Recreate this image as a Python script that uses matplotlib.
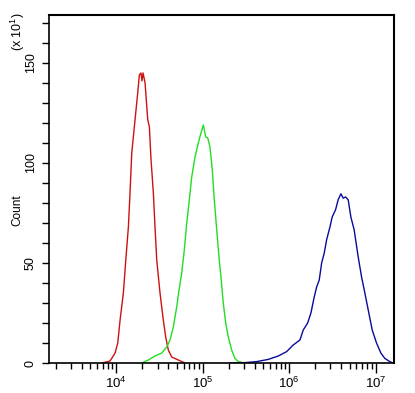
import matplotlib
matplotlib.use('Agg')
import matplotlib.pyplot as plt
import numpy as np
from matplotlib.ticker import FixedLocator, LogLocator, NullFormatter

plt.rcParams['font.family'] = ['Liberation Sans', 'DejaVu Sans']
plt.rcParams['mathtext.fontset'] = 'custom'
plt.rcParams['mathtext.rm'] = 'Liberation Sans'
plt.rcParams['mathtext.it'] = 'Liberation Sans'

red_log = [3.831, 3.927, 3.985, 4.016, 4.043, 4.081, 4.109, 4.139, 4.158, 4.178,
           4.216, 4.247, 4.266, 4.285, 4.296, 4.309, 4.332, 4.363, 4.382, 4.401,
           4.428, 4.447, 4.467, 4.505, 4.543, 4.571, 4.601, 4.640, 4.717, 4.794]
red_cnt = [0, 1, 5, 10, 21.5, 35, 51.5, 68, 85, 105,
           121.6, 135, 144, 145, 141, 145, 140, 121.6, 118, 101.6,
           85, 68, 51.5, 35, 21.5, 13, 6.5, 3, 1.5, 0]

green_log = [4.294, 4.370, 4.447, 4.525, 4.583, 4.621, 4.659, 4.698, 4.725, 4.756,
             4.786, 4.814, 4.840, 4.872, 4.910, 4.948, 4.979, 5.006, 5.034, 5.057,
             5.083, 5.110, 5.133, 5.161, 5.187, 5.210, 5.237, 5.265, 5.295, 5.334,
             5.372, 5.410, 5.488]
green_cnt = [0, 1.5, 3.5, 5, 8, 11.5, 18, 28, 36.5, 45,
             56.5, 70, 80, 93, 103, 110, 115, 119, 113, 112.5,
             108, 96.6, 81.6, 66.6, 53, 43, 30, 20, 13, 6.5,
             2.3, 0.7, 0]

blue_log = [5.314, 5.488, 5.623, 5.757, 5.873, 5.970, 6.046, 6.124, 6.162, 6.213,
            6.251, 6.289, 6.317, 6.347, 6.375, 6.405, 6.432, 6.471, 6.497, 6.536,
            6.566, 6.598, 6.624, 6.652, 6.682, 6.713, 6.751, 6.798, 6.837, 6.875,
            6.921, 6.960, 7.010, 7.060, 7.106, 7.164, 7.202]
blue_cnt = [0, 0.2, 0.7, 1.8, 3.5, 5.7, 9, 11.5, 16.5, 20,
            25, 33, 38, 41.5, 50, 55, 61.5, 68, 73, 76.6,
            81.6, 84.6, 82.4, 83, 81.6, 73, 66.6, 53, 43, 35,
            25, 16.5, 10, 5, 2.3, 0.7, 0]

y_major = [0, 50, 100, 150]
x_major = [1e4, 1e5, 1e6, 1e7]
x_labels = ['$10^{4}$', '$10^{5}$', '$10^{6}$', '$10^{7}$']

fig = plt.figure(figsize=(4.15, 3.93), dpi=100)
ax = fig.add_axes([0.119, 0.0763, 0.831, 0.8857])

ax.plot(10 ** np.array(red_log), red_cnt, color='#cc1111', lw=1)
ax.plot(10 ** np.array(green_log), green_cnt, color='#22dd22', lw=1)
ax.plot(10 ** np.array(blue_log), blue_cnt, color='#0a0a9a', lw=1)

ax.set_xscale('log')
ax.set_xlim(10 ** 3.225, 10 ** 7.215)
ax.set_ylim(0, 174)

ax.xaxis.set_major_locator(FixedLocator(x_major))
ax.set_xticklabels(x_labels, fontsize=9.5)
ax.xaxis.set_minor_locator(LogLocator(base=10, subs=np.arange(2, 10)))
ax.xaxis.set_minor_formatter(NullFormatter())
ax.tick_params(axis='x', which='major', length=7, width=1, pad=2)
ax.tick_params(axis='x', which='minor', length=4, width=1)

ax.yaxis.set_major_locator(FixedLocator(y_major))
ax.yaxis.set_minor_locator(FixedLocator(np.arange(0, 171, 10)))
ax.set_yticklabels([str(v) for v in y_major], fontsize=9, rotation=90, va='center')
ax.tick_params(axis='y', which='both', length=5, width=1, pad=4)

for spine in ['top', 'right']:
    ax.spines[spine].set_visible(False)
ax.plot([1, 1], [0, 1], transform=ax.transAxes, color='black', lw=1.5, clip_on=False)
ax.plot([0, 1], [1, 1], transform=ax.transAxes, color='black', lw=1.5, clip_on=False)
for spine in ['left', 'bottom']:
    ax.spines[spine].set_linewidth(1.2)

fig.text(0.043, 0.466, 'Count', rotation=90, fontsize=8.5, ha='center', va='center')
fig.text(0.043, 0.918, '(x 10$^{1}$)', rotation=90, fontsize=9, ha='center', va='center')

plt.savefig('out.png', dpi=100)
